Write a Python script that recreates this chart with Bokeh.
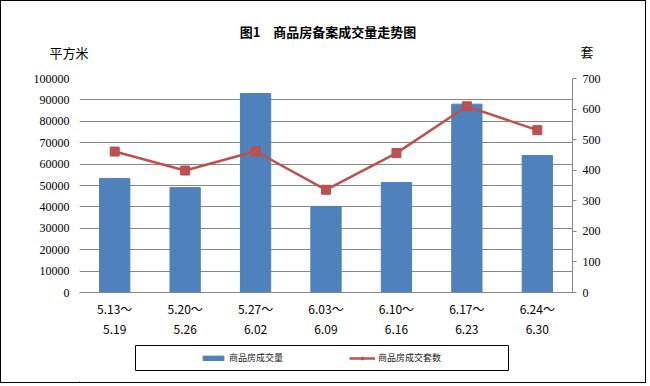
from bokeh.plotting import figure
from bokeh.layouts import column
from bokeh.models import (LinearAxis, Range1d, FactorRange, Legend, LegendItem, Div,
                          NumeralTickFormatter, FixedTicker)
from bokeh.embed import file_html
from bokeh.resources import INLINE

week_start = ["5.13", "5.20", "5.27", "6.03", "6.10", "6.17", "6.24"]
week_end = ["5.19", "5.26", "6.02", "6.09", "6.16", "6.23", "6.30"]
categories = [s + "～\n" + e for s, e in zip(week_start, week_end)]
area_values = [53300, 49000, 93000, 40200, 51400, 88000, 64000]
unit_values = [461, 399, 462, 336, 456, 609, 531]
left_ticks = [0, 10000, 20000, 30000, 40000, 50000, 60000, 70000, 80000, 90000, 100000]
right_ticks = [0, 100, 200, 300, 400, 500, 600, 700]
title_text = "图1　商品房备案成交量走势图"
left_unit = "平方米"
right_unit = "套"
bar_name = "商品房成交量"
line_name = "商品房成交套数"

CJK = "Noto Sans CJK SC"
NUM = "Liberation Serif"
BLUE = "#4F81BD"
RED = "#C0504D"
GRID = "#868686"
W = 644
FL, FR = 78, 571   # frame edges (figure pixels), shared by the stacked figures


def blank(fig):
    fig.xgrid.grid_line_color = None
    fig.ygrid.grid_line_color = None
    fig.outline_line_color = None
    fig.background_fill_color = "white"
    fig.border_fill_color = "white"


# ---- header: title and axis units ----
def span(txt, cx, cy, bold=False):
    weight = "bold" if bold else "normal"
    return (f'<span style="position:absolute;left:{cx}px;top:{cy}px;'
            f'transform:translate(-50%,-50%);white-space:nowrap;line-height:1;'
            f'font-family:\'{CJK}\';font-size:13px;font-weight:{weight};color:black">{txt}</span>')


header_html = ('<div style="position:relative;width:%dpx;height:66px;background:white">' % W
               + span(title_text, 327, 30, bold=True)
               + span(left_unit, 68, 51)
               + span(right_unit, 586, 50)
               + '</div>')
top = Div(text=header_html, width=W, height=66, margin=0)

# ---- main chart ----
p = figure(width=W, height=274, x_range=FactorRange(*categories),
           y_range=Range1d(0, 100000), output_backend="svg", toolbar_location=None,
           min_border_left=FL, min_border_right=W - FR, min_border_top=11, min_border_bottom=49)
p.extra_y_ranges = {"right": Range1d(0, 700)}
blank(p)

p.vbar(x=categories, top=area_values, width=0.43, color=BLUE)
p.line(x=categories, y=unit_values, color=RED, line_width=2.5, y_range_name="right")
p.scatter(x=categories, y=unit_values, marker="square", size=9, fill_color=RED,
          line_color="#B5504D", y_range_name="right")

ly = p.yaxis[0]
ly.ticker = FixedTicker(ticks=left_ticks)
ly.formatter = NumeralTickFormatter(format="0")
ly.axis_line_color = None
ly.major_tick_line_color = None
ly.major_tick_out = 0
ly.minor_tick_line_color = None
ly.major_label_standoff = 10
ly.major_label_text_font = NUM
ly.major_label_text_font_size = "12px"
ly.major_label_text_color = "black"

ry = LinearAxis(y_range_name="right", ticker=FixedTicker(ticks=right_ticks))
ry.axis_line_color = GRID
ry.major_tick_line_color = GRID
ry.major_tick_out = 4
ry.major_tick_in = 0
ry.minor_tick_line_color = None
ry.major_label_standoff = 6
ry.major_label_text_font = NUM
ry.major_label_text_font_size = "12px"
ry.major_label_text_color = "black"
p.add_layout(ry, "right")

xa = p.xaxis[0]
xa.axis_line_color = GRID
xa.major_tick_line_color = None
xa.major_tick_out = 0
xa.minor_tick_line_color = None
xa.major_label_standoff = 7
xa.major_label_text_font = CJK
xa.major_label_text_font_size = "12px"
xa.major_label_text_color = "black"

p.xgrid.grid_line_color = None
p.ygrid.ticker = FixedTicker(ticks=left_ticks)
p.ygrid.grid_line_color = GRID
p.ygrid.grid_line_width = 1

# ---- legend strip ----
bot = figure(width=W, height=41, x_range=Range1d(FL, FR), y_range=Range1d(0, 41),
             x_axis_type=None, y_axis_type=None, output_backend="svg",
             toolbar_location=None, min_border_left=FL, min_border_right=W - FR,
             min_border_top=0, min_border_bottom=0)
blank(bot)
bot.quad(left=[134], right=[507], bottom=[12], top=[37], fill_color=None,
         line_color="black", line_width=1)
# legend key renderers, parked outside the visible range
lb = bot.vbar(x=[-500], top=[1], width=1, color=BLUE)
ll = bot.line(x=[-500, -499], y=[1, 1], color=RED, line_width=2.5)
lm = bot.scatter(x=[-500], y=[1], marker="square", size=7, fill_color=RED, line_color=RED)
legend = Legend(items=[LegendItem(label=bar_name, renderers=[lb]),
                       LegendItem(label=line_name, renderers=[ll, lm])],
                orientation="horizontal", location=(199 - FL, 18),
                label_text_font=CJK, label_text_font_size="9px", label_text_color="#222222",
                glyph_width=26, glyph_height=6, label_standoff=3, spacing=60,
                label_width=60, label_height=12, padding=0, margin=0,
                border_line_color=None, background_fill_alpha=0)
bot.add_layout(legend, "center")

layout = column(top, p, bot, spacing=0, styles={"border": "1px solid black"})
open("out.html", "w").write(file_html(layout, INLINE))
